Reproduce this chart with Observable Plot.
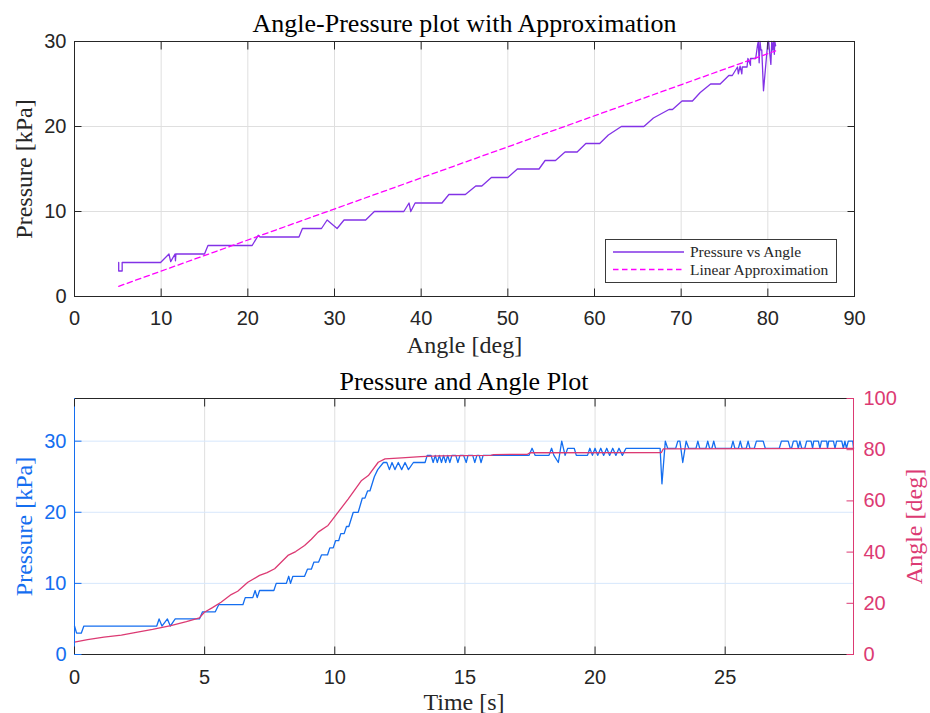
<!DOCTYPE html>
<html><head><meta charset="utf-8">
<script src="https://cdn.jsdelivr.net/npm/d3@7"></script>
<script src="https://cdn.jsdelivr.net/npm/@observablehq/plot@0.6"></script>
<style>
body{margin:0;background:#fff;}
#wrap{width:930px;height:713px;position:relative;overflow:hidden;background:#fff}
#wrap svg{display:block;overflow:visible}
</style></head><body><div id="wrap"></div>
<script>
// ---------- Top chart data: Pressure vs Angle ----------
const topAngle = [5.1,5.1,5.5,5.5,9.93,10.9,11.1,11.6,11.65,11.7,15.0,15.4,20.5,21.2,21.4,25.9,26.3,28.5,29.15,30.3,31.1,33.6,34.6,38.0,38.6,38.8,39.3,42.4,43.2,45.1,46.3,47.0,48.1,50.0,51.1,53.6,54.3,55.5,56.6,58.0,59.0,60.6,61.6,63.1,65.7,66.8,68.6,69.0,70.1,71.3,72.2,73.4,74.5,75.5,75.9,76.5,76.6,76.8,77.0,77.05,77.6,77.7,78.0,78.0,78.3,78.6,78.8,78.9,79.0,79.1,79.2,79.3,79.5,80.0,80.1,80.2,80.35,80.45,80.55,80.65,80.75,80.8,80.9];
const topPressure = [4,3,3,4,4,5,4.1,5,4.2,5,5,6,6,7.2,7,7,8,8,9,8,9,9,10,10,11,10,11,11,12,12,13,13,14,14,15,15,16,16,17,17,18,18,19,20,20,21,22,22,23,23,24,25,25,26,26,27,26.2,27.1,26.2,27,27,28,27.2,28,28,28,29.5,30,27.5,30,29,29,24.2,30,30,28.8,27.3,30,29,30,28.5,30,29.5];
const approxAngle = [5.1, 80.9];
const approxPressure = [1.2, 28.9];
const topXTicks = [0,10,20,30,40,50,60,70,80,90];
const topYTicks = [0,10,20,30];
const topLegend = ["Pressure vs Angle", "Linear Approximation"];

// ---------- Bottom chart data: Pressure and Angle vs Time ----------
const pTime = [0,0.08,0.26,0.36,3.16,3.25,3.36,3.57,3.68,3.87,4.80,4.92,5.41,5.54,6.47,6.56,6.85,6.94,7.02,7.11,7.66,7.75,8.14,8.23,8.30,8.39,8.84,8.95,9.10,9.20,9.38,9.49,9.72,9.81,9.94,10.03,10.15,10.23,10.36,10.45,10.54,10.71,10.90,11.06,11.16,11.26,11.35,11.52,11.65,11.87,12.00,12.10,12.20,12.31,12.44,12.57,12.70,12.83,13.02,13.47,13.55,13.70,13.78,13.86,13.94,14.02,14.10,14.18,14.26,14.34,14.42,14.50,14.65,14.73,14.81,14.95,15.05,15.12,15.30,15.38,15.46,15.55,15.62,15.70,17.46,17.58,17.70,18.23,18.33,18.42,18.59,18.72,18.85,18.95,19.20,19.28,19.71,19.80,19.90,20.00,20.10,20.22,20.33,20.45,20.56,20.68,20.80,20.92,21.05,21.19,22.50,22.57,22.70,22.79,23.10,23.18,23.26,23.37,23.50,23.60,23.88,23.95,24.02,24.26,24.33,24.40,24.49,24.56,24.63,25.23,25.30,25.37,25.51,25.58,25.65,25.81,25.88,25.95,26.12,26.20,26.46,26.54,27.08,27.16,27.42,27.50,27.55,27.62,27.75,27.81,27.87,27.94,28.06,28.13,28.30,28.36,28.40,28.58,28.64,28.70,28.90,28.93,28.98,29.16,29.22,29.28,29.48,29.54,29.60,29.66,29.73,29.90,29.93];
const pValue = [4,3,3,4,4,5,4,5,4,5,5,6,6,7,7,8,8,9,8,9,9,10,10,11,10,11,11,12,12,13,13,14,14,15,15,16,16,17,17,18,18,20,20,22,22,23,23,25,26,27,27,26,27,26,27,26,27,26,27,27,28,28,27,28,27,28,27,28,27,28,27,28,28,27,28,28,27,28,28,27,28,28,27,28,28,29,28,28,29,28,27,30,28,29,29,28,28,29,28,29,28,29,28,29,28,29,28,29,28,29,29,24,30,29,29,30,30,27,30,29,29,30,29,29,30,29,29,30,29,29,30,29,29,30,29,29,30,29,29,30,30,29,29,30,30,29,29,30,30,29,30,29,29,30,30,29,30,30,29,30,30,29,30,30,29,30,30,29,30,29,30,30,29];
const aTime = [0,0.5,1.13,1.8,2.42,3.0,3.7,4.3,4.8,4.99,5.3,5.63,6.02,6.27,6.66,7.11,7.4,7.69,8.2,8.5,8.84,9.1,9.36,9.74,10.13,10.52,11.03,11.29,11.67,11.93,12.57,13.3,14.0,16.0,16.1,17.4,17.5,22.55,22.62,29.93];
const aValue = [4.8,5.8,6.8,7.6,8.7,9.8,11.3,12.8,14.3,16.5,18.3,20.4,23.4,24.7,28.2,30.9,32.0,33.5,38.7,40.2,42.6,45.0,47.8,50.4,55.6,60.8,68.0,69.9,75.1,76.4,76.8,77.3,77.6,77.8,78.1,78.2,78.8,78.9,80.3,80.5];
const timeTicks = [0,5,10,15,20,25];
const pressureTicks = [0,10,20,30];
const angleTicks = [0,20,40,60,80,100];
const timeDomain = [0, 29.93];
const pressureDomain = [0, 36];
const angleDomain = [0, 100];

// ---------- styles ----------
const serif = "'Liberation Serif','Times New Roman',serif";
const sans = "'Liberation Sans',Arial,sans-serif";
const dark = "#262626";
const grid = "#dfdfdf";
const purple = "#8232e6";
const magenta = "#ff00ff";
const blue = "#146ef0";
const pink = "#dc3a73";
const K = (pressureDomain[1] - pressureDomain[0]) / (angleDomain[1] - angleDomain[0]);

const A = {w: 930, h: 362, mt: 41, mb: 66, ml: 74, mr: 76};
const plotA = Plot.plot({
  width: A.w, height: A.h,
  marginTop: A.mt, marginBottom: A.mb, marginLeft: A.ml, marginRight: A.mr,
  style: {fontFamily: sans, fontSize: "20px", color: dark, background: "white"},
  x: {domain: [0, 90]},
  y: {domain: [0, 30]},
  marks: [
    Plot.gridX(topXTicks.slice(1, -1), {stroke: grid, strokeOpacity: 1}),
    Plot.gridY(topYTicks.slice(1, -1), {stroke: grid, strokeOpacity: 1}),
    Plot.line(topAngle, {x: topAngle, y: topPressure, stroke: purple, strokeWidth: 1.3}),
    Plot.line(approxAngle, {x: approxAngle, y: approxPressure, stroke: magenta, strokeWidth: 1.3, strokeDasharray: "5.5,3.5"}),
    Plot.frame({stroke: dark}),
    Plot.axisX(topXTicks, {anchor: "bottom", tickSize: 0, tickPadding: 14, label: null, fill: dark, fontSize: 20}),
    Plot.axisX(topXTicks, {anchor: "bottom", tickSize: -7.5, text: null, label: null, stroke: dark}),
    Plot.axisX(topXTicks, {anchor: "top", tickSize: -7.5, text: null, label: null, stroke: dark}),
    Plot.axisY(topYTicks, {anchor: "left", tickSize: 0, tickPadding: 8, label: null, fill: dark, fontSize: 20}),
    Plot.axisY(topYTicks, {anchor: "left", tickSize: -7.5, text: null, label: null, stroke: dark}),
    Plot.axisY(topYTicks, {anchor: "right", tickSize: -7.5, text: null, label: null, stroke: dark}),
    Plot.text(["Angle-Pressure plot with Approximation"], {frameAnchor: "top", dy: -9.3, lineAnchor: "bottom", textAnchor: "middle", fontFamily: serif, fontSize: 26, fill: "#000"}),
    Plot.text(["Angle [deg]"], {frameAnchor: "bottom", dy: 56, lineAnchor: "bottom", textAnchor: "middle", fontFamily: serif, fontSize: 24, fill: dark}),
    Plot.text(["Pressure [kPa]"], {frameAnchor: "left", dx: -43, rotate: -90, lineAnchor: "bottom", textAnchor: "middle", fontFamily: serif, fontSize: 24, fill: dark})
  ]
});

// legend for top chart
{
  const svg = d3.select(plotA);
  const right = A.w - A.mr - 18, bottom = A.h - A.mb - 14;
  const bw = 231, bh = 43;
  const g = svg.append("g");
  g.append("rect").attr("x", right - bw + 0.5).attr("y", bottom - bh + 0.5).attr("width", bw).attr("height", bh)
    .attr("fill", "white").attr("stroke", "#3a3a3a").attr("stroke-width", 1);
  const x0 = right - bw + 8, x1 = x0 + 71;
  const rows = [{c: purple, d: null}, {c: magenta, d: "5.5,3.5"}];
  rows.forEach((r, i) => {
    const y = bottom - bh + 13 + i * 17.5;
    g.append("line").attr("x1", x0).attr("x2", x1).attr("y1", y).attr("y2", y)
      .attr("stroke", r.c).attr("stroke-width", 1.3).attr("stroke-dasharray", r.d);
    g.append("text").attr("x", x1 + 6).attr("y", y + 5).text(topLegend[i])
      .attr("text-anchor", "start")
      .attr("font-family", serif).attr("font-size", 15.5).attr("fill", dark);
  });
}

const B = {w: 930, h: 351, mt: 36, mb: 59, ml: 74, mr: 77};
const plotB = Plot.plot({
  width: B.w, height: B.h,
  marginTop: B.mt, marginBottom: B.mb, marginLeft: B.ml, marginRight: B.mr,
  style: {fontFamily: sans, fontSize: "20px", color: dark, background: "white"},
  x: {domain: timeDomain},
  y: {domain: pressureDomain},
  marks: [
    Plot.gridX(timeTicks.slice(1), {stroke: grid, strokeOpacity: 1}),
    Plot.gridY(pressureTicks.slice(1), {stroke: "#d7e7fc", strokeOpacity: 1}),
    Plot.line(pTime, {x: pTime, y: pValue, stroke: blue, strokeWidth: 1.3}),
    Plot.line(aTime, {x: aTime, y: aValue.map(a => a * K), stroke: pink, strokeWidth: 1.3}),
    Plot.ruleY(pressureDomain, {stroke: dark}),
    Plot.ruleX([timeDomain[0]], {stroke: blue}),
    Plot.ruleX([timeDomain[1]], {stroke: pink}),
    Plot.axisX(timeTicks, {anchor: "bottom", tickSize: 0, tickPadding: 15, label: null, fill: dark, fontSize: 20}),
    Plot.axisX(timeTicks, {anchor: "bottom", tickSize: -7.5, text: null, label: null, stroke: dark}),
    Plot.axisX(timeTicks, {anchor: "top", tickSize: -7.5, text: null, label: null, stroke: dark}),
    Plot.axisY(pressureTicks, {anchor: "left", tickSize: 0, tickPadding: 8, label: null, fill: blue, fontSize: 20}),
    Plot.axisY(pressureTicks, {anchor: "left", tickSize: -7.5, text: null, label: null, stroke: blue}),
    Plot.axisY(angleTicks.map(a => a * K), {anchor: "right", tickSize: 0, tickPadding: 10, label: null, fill: pink, fontSize: 20, tickFormat: d => String(Math.round(d / K))}),
    Plot.axisY(angleTicks.map(a => a * K), {anchor: "right", tickSize: -7.5, text: null, label: null, stroke: pink}),
    Plot.text(["Pressure and Angle Plot"], {frameAnchor: "top", dy: -8.4, lineAnchor: "bottom", textAnchor: "middle", fontFamily: serif, fontSize: 26, fill: "#000"}),
    Plot.text(["Time [s]"], {frameAnchor: "bottom", dy: 55, lineAnchor: "bottom", textAnchor: "middle", fontFamily: serif, fontSize: 24, fill: dark}),
    Plot.text(["Pressure [kPa]"], {frameAnchor: "left", dx: -43, rotate: -90, lineAnchor: "bottom", textAnchor: "middle", fontFamily: serif, fontSize: 24, fill: blue}),
    Plot.text(["Angle [deg]"], {frameAnchor: "right", dx: 68, rotate: -90, lineAnchor: "bottom", textAnchor: "middle", fontFamily: serif, fontSize: 24, fill: pink})
  ]
});

document.getElementById("wrap").append(plotA, plotB);
</script>
</body></html>
